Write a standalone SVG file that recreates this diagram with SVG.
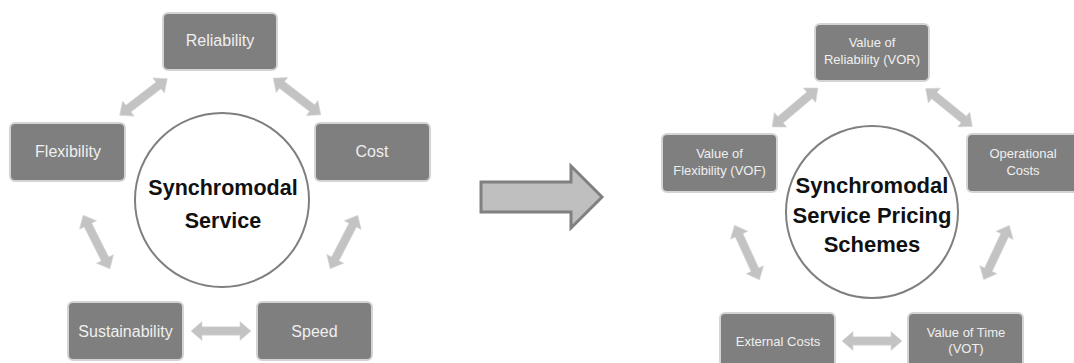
<svg xmlns="http://www.w3.org/2000/svg" xmlns:xlink="http://www.w3.org/1999/xlink" width="1074" height="363" viewBox="0 0 1074 363">
<style>
.box{fill:#7f7f7f;stroke:#d4d4d4;stroke-width:2}
.bt{font-family:"Liberation Sans",Arial,sans-serif;fill:#efefef;text-anchor:middle}
.l{font-size:16px}
.s{font-size:13px}
.hub{fill:#ffffff;stroke:#7f7f7f;stroke-width:2}
.ht{font-family:"Liberation Sans",Arial,sans-serif;font-weight:bold;fill:#111111;text-anchor:middle}
.conn{fill:#c3c3c3;stroke:#d6d6d6;stroke-width:0.6}
</style>
<defs>
<polygon id="dbl" points="-30,0 -19,-9.5 -19,-4.2 19,-4.2 19,-9.5 30,0 19,9.5 19,4.2 -19,4.2 -19,9.5"/>
</defs>
<rect width="1074" height="363" fill="#ffffff"/>

<g id="connectors" class="conn">
<use xlink:href="#dbl" transform="translate(143.5,97) rotate(-37.5)"/>
<use xlink:href="#dbl" transform="translate(297,96.5) rotate(37.6)"/>
<use xlink:href="#dbl" transform="translate(96.5,242) rotate(63.4)"/>
<use xlink:href="#dbl" transform="translate(344,242) rotate(-62.6)"/>
<use xlink:href="#dbl" transform="translate(221,331)"/>
<use xlink:href="#dbl" transform="translate(795,107.5) rotate(-40.3)"/>
<use xlink:href="#dbl" transform="translate(949,107.5) rotate(39.1)"/>
<use xlink:href="#dbl" transform="translate(747,252.5) rotate(65.5)"/>
<use xlink:href="#dbl" transform="translate(996.5,252.5) rotate(-64.7)"/>
<use xlink:href="#dbl" transform="translate(872,341)"/>
</g>

<g id="transition-arrow">
<polygon points="481,182 571,182 571,166 602,197 571,228 571,212 481,212" fill="#bfbfbf" stroke="#808080" stroke-width="3" stroke-linejoin="miter"/>
</g>

<g id="hub-left">
<circle class="hub" cx="222" cy="200" r="87"/>
<text class="ht" x="223" y="195" font-size="21.5">Synchromodal</text>
<text class="ht" x="223" y="228" font-size="21.5">Service</text>
</g>
<g id="node-reliability">
<rect class="box" x="163" y="13" width="114" height="57" rx="5"/>
<text class="bt l" x="220" y="46">Reliability</text>
</g>
<g id="node-flexibility">
<rect class="box" x="10" y="123" width="115" height="58" rx="5"/>
<text class="bt l" x="68" y="157">Flexibility</text>
</g>
<g id="node-cost">
<rect class="box" x="315" y="123" width="115" height="58" rx="5"/>
<text class="bt l" x="372" y="157">Cost</text>
</g>
<g id="node-sustainability">
<rect class="box" x="68" y="302" width="115" height="58" rx="5"/>
<text class="bt l" x="125.5" y="337">Sustainability</text>
</g>
<g id="node-speed">
<rect class="box" x="257" y="302" width="115" height="58" rx="5"/>
<text class="bt l" x="314.5" y="337">Speed</text>
</g>

<g id="hub-right">
<circle class="hub" cx="872" cy="212" r="86" stroke-width="1.6"/>
<text class="ht" x="872" y="193" font-size="22">Synchromodal</text>
<text class="ht" x="872" y="223" font-size="22">Service Pricing</text>
<text class="ht" x="872" y="252" font-size="22">Schemes</text>
</g>
<g id="node-vor">
<rect class="box" x="815" y="24" width="114" height="57" rx="5"/>
<text class="bt s" x="872" y="47">Value of</text>
<text class="bt s" x="872" y="64">Reliability (VOR)</text>
</g>
<g id="node-vof">
<rect class="box" x="662" y="134" width="115" height="58" rx="5"/>
<text class="bt s" x="719.5" y="158">Value of</text>
<text class="bt s" x="719.5" y="175">Flexibility (VOF)</text>
</g>
<g id="node-operational">
<rect class="box" x="967" y="134" width="115" height="58" rx="5"/>
<text class="bt s" x="1023" y="158">Operational</text>
<text class="bt s" x="1023" y="175">Costs</text>
</g>
<g id="node-external">
<rect class="box" x="720" y="313" width="115" height="58" rx="5"/>
<text class="bt s" x="778" y="346">External Costs</text>
</g>
<g id="node-vot">
<rect class="box" x="908" y="313" width="115" height="58" rx="5"/>
<text class="bt s" x="966" y="337">Value of Time</text>
<text class="bt s" x="966" y="353">(VOT)</text>
</g>
</svg>
